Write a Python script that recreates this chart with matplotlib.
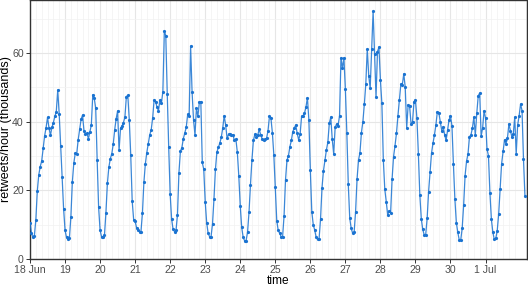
import matplotlib
matplotlib.use("Agg")
import matplotlib.pyplot as plt
import matplotlib.dates as mdates
import numpy as np
import pandas as pd

plt.rcParams["font.family"] = ["Liberation Sans", "DejaVu Sans"]

# hourly retweets (thousands), one list per day starting 18 Jun 00:00
day_18 = [10.6, 7.5, 6.3, 6.8, 11.4, 19.8, 24.5, 26.9, 28.5, 32.2, 35.8, 38.2,
          41.2, 38.2, 36.0, 38.3, 39.7, 41.5, 42.9, 49.2, 42.2, 33.0, 24.0, 14.7]
day_19 = [8.4, 6.3, 5.7, 6.1, 12.3, 22.4, 27.9, 30.8, 30.6, 34.7, 37.8, 40.7,
          41.9, 37.2, 36.4, 36.6, 35.0, 37.0, 39.0, 47.8, 46.8, 43.9, 28.8, 15.0]
day_20 = [8.4, 6.5, 6.5, 6.9, 13.5, 22.0, 26.7, 29.2, 30.6, 33.4, 37.6, 40.8,
          43.1, 31.6, 38.1, 38.7, 39.7, 41.3, 47.3, 47.6, 40.5, 30.2, 16.8, 11.4]
day_21 = [11.0, 9.1, 8.3, 8.0, 8.0, 13.3, 22.3, 27.7, 31.0, 33.5, 36.1, 37.6,
          41.0, 46.3, 45.8, 44.2, 43.2, 46.3, 45.3, 48.7, 66.4, 65.0, 48.1, 32.5]
day_22 = [18.9, 11.6, 8.6, 8.0, 8.3, 12.8, 25.1, 31.3, 32.4, 35.0, 36.6, 38.3,
          42.1, 41.5, 62.0, 48.7, 40.5, 36.1, 43.9, 41.5, 45.8, 45.8, 28.1, 26.1]
day_23 = [16.7, 10.6, 7.5, 6.5, 6.5, 10.2, 17.5, 26.1, 31.1, 32.5, 33.7, 35.4,
          38.1, 41.7, 39.0, 35.1, 36.3, 36.4, 36.1, 36.1, 34.5, 34.9, 31.1, 24.2]
day_24 = [15.5, 9.2, 6.3, 5.3, 5.3, 7.8, 13.6, 21.6, 28.8, 34.5, 36.3, 35.6,
          36.1, 37.8, 36.1, 35.0, 34.7, 34.9, 35.1, 37.3, 41.5, 41.0, 36.8, 30.3]
day_25 = [21.1, 11.2, 8.3, 7.5, 6.5, 6.5, 12.5, 23.0, 28.8, 30.0, 32.7, 34.5,
          37.1, 38.1, 39.0, 36.6, 34.7, 36.3, 41.5, 41.7, 42.4, 44.2, 47.0, 40.5]
day_26 = [25.9, 13.8, 10.0, 8.4, 6.3, 5.7, 5.9, 11.7, 20.8, 25.7, 28.8, 31.7,
          34.0, 39.5, 41.3, 34.9, 30.6, 38.3, 39.3, 38.8, 41.7, 58.6, 55.5, 58.6]
day_27 = [49.4, 36.8, 21.7, 11.8, 8.9, 7.5, 7.8, 13.8, 23.3, 28.8, 31.0, 36.8,
          40.0, 45.1, 51.0, 61.2, 53.3, 49.7, 61.0, 72.2, 59.6, 47.1, 60.4, 61.7]
day_28 = [52.1, 45.3, 28.8, 20.3, 16.7, 12.8, 14.1, 13.5, 23.3, 29.8, 33.0, 36.6,
          41.7, 46.3, 50.9, 50.7, 53.9, 50.0, 38.1, 44.9, 44.4, 39.3, 40.0, 45.8]
day_29 = [46.3, 41.0, 30.6, 18.6, 11.7, 8.6, 7.0, 7.0, 11.8, 19.6, 25.4, 30.8,
          33.7, 36.1, 39.0, 42.9, 42.6, 40.0, 37.4, 38.5, 36.1, 34.5, 37.6, 40.5]
day_30 = [41.7, 38.7, 27.6, 17.5, 10.6, 7.8, 5.5, 5.5, 8.9, 15.7, 24.3, 28.5,
          30.6, 35.6, 36.1, 38.1, 41.3, 36.1, 42.4, 47.5, 48.3, 35.8, 38.1, 43.2]
day_jul1 = [41.0, 32.0, 30.1, 19.3, 11.6, 7.8, 5.7, 6.0, 8.2, 13.1, 20.4, 27.7,
            31.3, 34.7, 33.5, 35.1, 39.3, 37.4, 35.6, 36.4, 41.3, 30.6, 39.0, 41.7]
day_jul2 = [45.1, 43.2, 29.0, 18.2]

days = [day_18, day_19, day_20, day_21, day_22, day_23, day_24, day_25,
        day_26, day_27, day_28, day_29, day_30, day_jul1, day_jul2]
values = np.concatenate([np.array(d) for d in days])
times = pd.date_range("2023-06-18 00:00", periods=len(values), freq="h")

tick_days = pd.date_range("2023-06-18", "2023-07-01", freq="D")
tick_labels = ["18 Jun", "19", "20", "21", "22", "23", "24", "25", "26", "27",
               "28", "29", "30", "1 Jul"]

fig = plt.figure(figsize=(5.28, 2.86), dpi=100)
ax = fig.add_axes([30 / 528, 27 / 286, 497 / 528, 259 / 286])

color = "#1a73d1"
ax.plot(times, values, color=color, lw=0.9, alpha=0.85, zorder=3)
ax.plot(times, values, "o", color=color, ms=2.3, mew=0, zorder=4)

ax.set_xlim(times[0], times[0] + pd.Timedelta(hours=340.4))
ax.set_ylim(0, 75.4)

ax.set_xticks(tick_days)
ax.set_xticklabels(tick_labels)
ax.xaxis.set_minor_locator(mdates.HourLocator(byhour=[4, 8, 12, 16, 20]))
ax.set_yticks([0, 20, 40, 60])
ax.set_yticks([10, 30, 50, 70], minor=True)

ax.grid(which="major", color="#e6e6e6", lw=0.8)
ax.grid(which="minor", color="#f2f2f2", lw=0.5)
ax.set_axisbelow(True)

for s in ax.spines.values():
    s.set_color("#333333")
    s.set_linewidth(1.0)

ax.tick_params(which="major", length=3, width=0.7, color="#333333",
               labelsize=7.6, labelcolor="#4d4d4d", pad=1.5)
ax.tick_params(which="minor", length=0)

ax.set_xlabel("time", fontsize=8.6)
ax.set_ylabel("retweets/hour (thousands)", fontsize=9)
# label anchors: top edge of "time", right edge of the y title (pixels -> axes coords)
ax.xaxis.set_label_coords(0.5, (286 - 274.5 - 27) / 259)
ax.yaxis.set_label_coords((12 - 30) / 497, 0.5)

fig.savefig("out.png", dpi=100)
